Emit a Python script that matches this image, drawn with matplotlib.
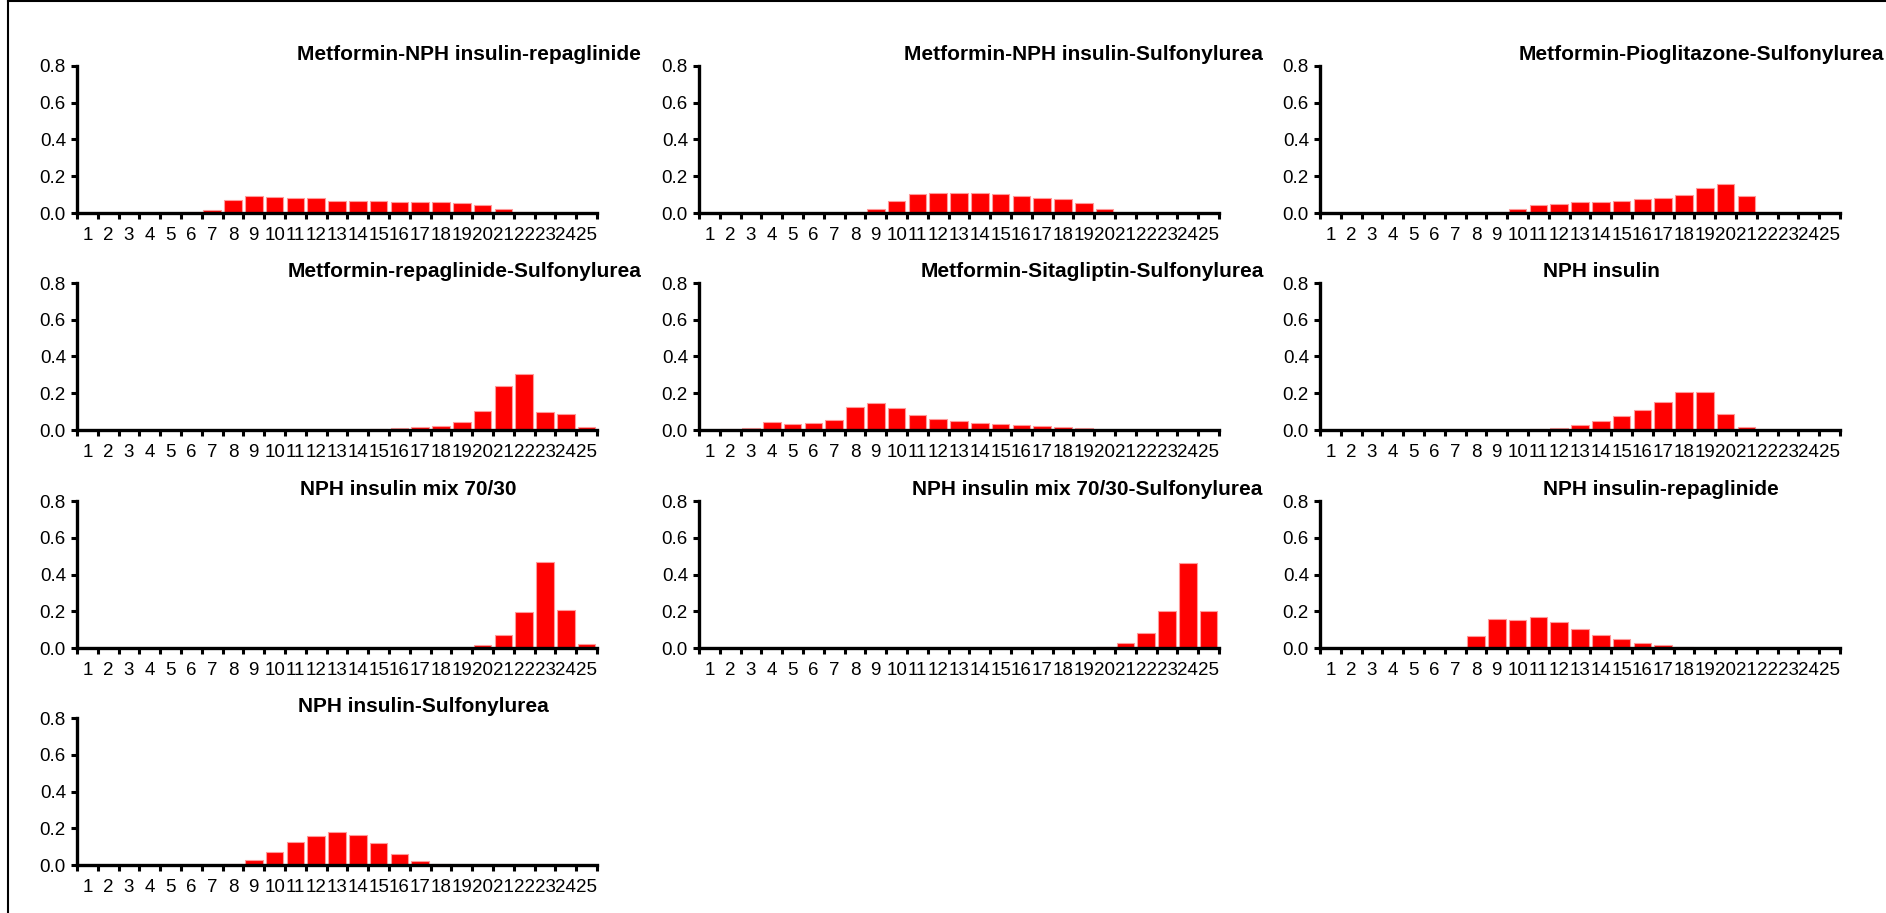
#!/usr/bin/env python3
# -*- coding: utf-8 -*-
"""
Small multiples: share of patients per category for each treatment
"""

import matplotlib
matplotlib.use('Agg')
import matplotlib.pyplot as plt
from matplotlib.lines import Line2D
import numpy as np

plt.rcParams['font.family'] = ['Liberation Sans', 'DejaVu Sans']

# categories on the x axis
categories = [str(i) for i in range(1, 26)]

titles = [
    'Metformin-NPH insulin-repaglinide',
    'Metformin-NPH insulin-Sulfonylurea',
    'Metformin-Pioglitazone-Sulfonylurea',
    'Metformin-repaglinide-Sulfonylurea',
    'Metformin-Sitagliptin-Sulfonylurea',
    'NPH insulin',
    'NPH insulin mix 70/30',
    'NPH insulin mix 70/30-Sulfonylurea',
    'NPH insulin-repaglinide',
    'NPH insulin-Sulfonylurea',
]

met_nph_repa = [0, 0, 0, 0, 0, 0.003, 0.018, 0.073, 0.091, 0.087, 0.082, 0.080, 0.067,
                0.065, 0.067, 0.062, 0.058, 0.058, 0.053, 0.042, 0.020, 0.003, 0, 0, 0]
met_nph_sulf = [0, 0, 0, 0, 0, 0, 0, 0.005, 0.024, 0.064, 0.102, 0.109, 0.109,
                0.111, 0.105, 0.091, 0.084, 0.075, 0.055, 0.020, 0, 0, 0, 0, 0]
met_pio_sulf = [0, 0, 0, 0, 0, 0, 0, 0, 0.003, 0.022, 0.042, 0.051, 0.058,
                0.060, 0.067, 0.078, 0.084, 0.096, 0.138, 0.160, 0.091, 0.003, 0, 0, 0]
met_repa_sulf = [0, 0, 0, 0, 0, 0, 0, 0, 0, 0, 0, 0, 0,
                 0, 0.004, 0.009, 0.016, 0.024, 0.042, 0.104, 0.241, 0.305, 0.100, 0.086, 0.015]
met_sita_sulf = [0, 0.003, 0.011, 0.042, 0.033, 0.038, 0.057, 0.126, 0.148, 0.119, 0.080, 0.058, 0.049,
                 0.038, 0.033, 0.026, 0.022, 0.016, 0.011, 0, 0, 0, 0, 0, 0]
nph = [0, 0, 0, 0, 0, 0, 0, 0, 0, 0, 0.004, 0.013, 0.027,
       0.051, 0.077, 0.111, 0.155, 0.205, 0.205, 0.088, 0.016, 0, 0, 0, 0]
nph_mix = [0, 0, 0, 0, 0, 0, 0, 0, 0, 0, 0, 0, 0,
           0, 0, 0, 0, 0, 0, 0.018, 0.071, 0.195, 0.468, 0.205, 0.022]
nph_mix_sulf = [0, 0, 0, 0, 0, 0, 0, 0, 0, 0, 0, 0, 0,
                0, 0, 0, 0, 0, 0, 0.008, 0.027, 0.082, 0.199, 0.464, 0.203]
nph_repa = [0, 0, 0, 0, 0, 0, 0, 0.066, 0.160, 0.155, 0.166, 0.139, 0.106,
            0.069, 0.047, 0.029, 0.016, 0.003, 0, 0, 0, 0, 0, 0, 0]
nph_sulf = [0, 0, 0, 0, 0, 0, 0, 0.005, 0.026, 0.071, 0.124, 0.159, 0.179,
            0.164, 0.119, 0.060, 0.022, 0.003, 0, 0, 0, 0, 0, 0, 0]

series = [met_nph_repa, met_nph_sulf, met_pio_sulf, met_repa_sulf, met_sita_sulf,
          nph, nph_mix, nph_mix_sulf, nph_repa, nph_sulf]

# layout in pixels (figure is 1886 x 913)
W, H = 1886, 913
col_left = [77, 699, 1320]
row_bottom = [213, 430, 648, 865]
ax_w, ax_h = 520, 147
title_dx = [220, 205, 199, 211, 222, 223, 223, 213, 223, 221]


def make_chart():
    fig = plt.figure(figsize=(W / 100, H / 100), dpi=100)
    fig.patch.set_facecolor('white')

    # outer frame (left and top edges visible)
    fig.add_artist(Line2D([8 / W, 8 / W], [0, 1], transform=fig.transFigure,
                          color='black', linewidth=1.5))
    fig.add_artist(Line2D([8 / W, 1], [1 - 1 / H, 1 - 1 / H], transform=fig.transFigure,
                          color='black', linewidth=1.5))

    x = np.arange(1, len(categories) + 1)

    for i, (title, vals) in enumerate(zip(titles, series)):
        row, col = divmod(i, 3)
        left = col_left[col]
        bottom = row_bottom[row]
        ax = fig.add_axes([left / W, 1 - bottom / H, ax_w / W, ax_h / H])

        ax.bar(x, vals, width=0.84, color='#ff0000', edgecolor='#ff9a9a', linewidth=0.8)

        ax.set_xlim(0.5, len(categories) + 0.5)
        ax.set_ylim(0, 0.8)

        # ticks between categories, labels in the middle
        ax.set_xticks(np.arange(0.5, len(categories) + 1, 1))
        ax.set_xticklabels([])
        ax.set_xticks(x, minor=True)
        ax.set_xticklabels(categories, minor=True)
        ax.tick_params(axis='x', which='major', direction='out', length=4, width=2.2, color='black')
        ax.tick_params(axis='x', which='minor', length=0, pad=10, labelsize=13.5)

        ax.set_yticks([0, 0.2, 0.4, 0.6, 0.8])
        ax.set_yticklabels(['0.0', '0.2', '0.4', '0.6', '0.8'])
        ax.tick_params(axis='y', direction='out', length=4, width=2.2, pad=4, labelsize=13.5)

        for s in ['top', 'right']:
            ax.spines[s].set_visible(False)
        ax.spines['left'].set_linewidth(2.4)
        ax.spines['bottom'].set_linewidth(2.4)

        ax.text((left + title_dx[i]) / W, 1 - (bottom - ax_h - 12) / H, title,
                transform=fig.transFigure, ha='left', va='center',
                fontsize=15, fontweight='bold', color='black')

    fig.savefig('out.png', dpi=100, facecolor='white')


if __name__ == '__main__':
    make_chart()
